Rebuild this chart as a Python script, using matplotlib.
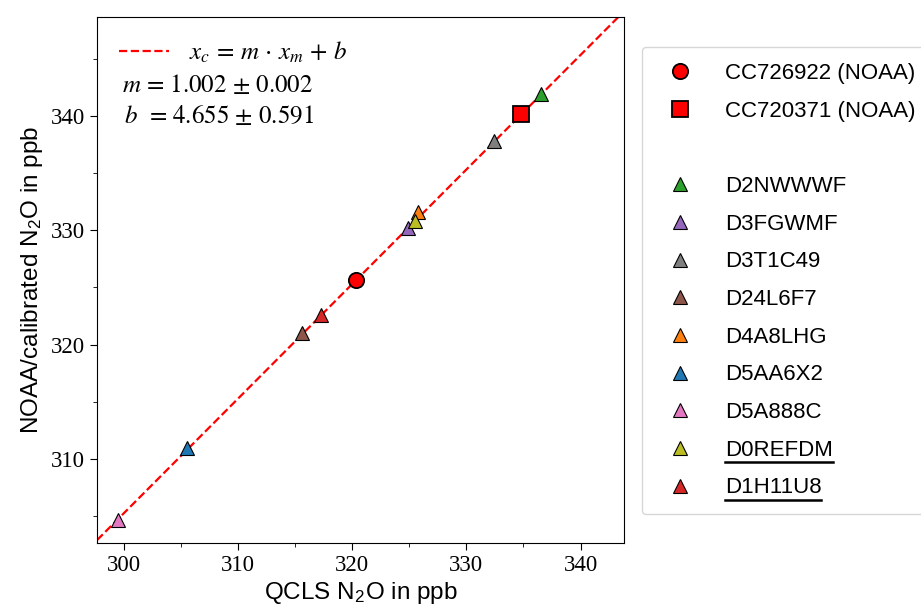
import matplotlib
matplotlib.use("Agg")
import matplotlib.pyplot as plt
import numpy as np
from matplotlib.lines import Line2D
from matplotlib.ticker import MultipleLocator

plt.rcParams["mathtext.fontset"] = "stix"
plt.rcParams["font.family"] = ["Liberation Sans", "DejaVu Sans"]

# fit result
slope = 1.002
slope_err = 0.002
offset = 4.655
offset_err = 0.591

# NOAA reference cylinders
ref_names = ["CC726922 (NOAA)", "CC720371 (NOAA)"]
ref_x = [320.33, 334.8]
ref_y = [325.65, 340.2]
ref_markers = ["o", "s"]

# calibrated cylinders
cyl_names = ["D2NWWWF", "D3FGWMF", "D3T1C49", "D24L6F7", "D4A8LHG",
             "D5AA6X2", "D5A888C", "D0REFDM", "D1H11U8"]
cyl_x = [336.5, 324.9, 332.4, 315.6, 325.8, 305.5, 299.5, 325.5, 317.3]
cyl_y = [341.9, 330.2, 337.8, 321.0, 331.6, 311.0, 304.7, 330.8, 322.6]
cyl_colors = ["tab:green", "tab:purple", "tab:gray", "tab:brown", "tab:orange",
              "tab:blue", "tab:pink", "tab:olive", "tab:red"]
underlined = ["D0REFDM", "D1H11U8"]

xlim = (297.65, 343.8)
ylim = (302.65, 348.65)

fig = plt.figure(figsize=(9.21, 6.10), dpi=100)
ax = fig.add_axes([0.1053, 0.1098, 0.5722, 0.8623])

xs = np.array(xlim)
fit_line, = ax.plot(xs, slope * xs + offset, "r--", lw=1.6, zorder=1,
                    label=r"$x_c \,=\, m \,\cdot\, x_m \,+\, b$")

handles = []
for name, x, y, m in zip(ref_names, ref_x, ref_y, ref_markers):
    h, = ax.plot([x], [y], m, color="red", mec="black", mew=1.3, ms=11,
                 ls="none", zorder=4, label=name)
    handles.append(h)
handles.append(Line2D([], [], ls="none", label=""))
for name, x, y, c in zip(cyl_names, cyl_x, cyl_y, cyl_colors):
    h, = ax.plot([x], [y], "^", color=c, mec="black", mew=0.8, ms=10,
                 ls="none", zorder=3, label=name)
    handles.append(h)

ax.set_xlim(*xlim)
ax.set_ylim(*ylim)
ax.xaxis.set_major_locator(MultipleLocator(10))
ax.xaxis.set_minor_locator(MultipleLocator(5))
ax.yaxis.set_major_locator(MultipleLocator(10))
ax.yaxis.set_minor_locator(MultipleLocator(5))
for lab in ax.get_xticklabels() + ax.get_yticklabels():
    lab.set_fontfamily("Liberation Serif")
    lab.set_fontsize(16.5)
ax.tick_params(which="major", length=5)
ax.tick_params(which="minor", length=3)

ax.set_xlabel(r"QCLS N$_\mathregular{2}$O in ppb", fontsize=17.5, labelpad=3)
ax.set_ylabel(r"NOAA/calibrated N$_\mathregular{2}$O in ppb", fontsize=17.5,
              labelpad=4)

ax.legend(handles=[fit_line], loc="upper left", frameon=False, fontsize=18,
          handlelength=2, handletextpad=0.8)
ax.text(0.047, 0.868, r"$m$ = %.3f $\pm$ %.3f" % (slope, slope_err),
        transform=ax.transAxes, fontsize=18, va="center",
        fontfamily="STIXGeneral")
ax.text(0.052, 0.809, r"$b$  = %.3f $\pm$ %.3f" % (offset, offset_err),
        transform=ax.transAxes, fontsize=18, va="center",
        fontfamily="STIXGeneral")

leg = fig.legend(handles=handles, loc="upper left",
                 bbox_to_anchor=(642 / 921, 1 - 47 / 610), fontsize=16,
                 handlelength=2, handletextpad=1.0, borderpad=0.72,
                 labelspacing=0.75, borderaxespad=0)

fig.canvas.draw()
renderer = fig.canvas.get_renderer()
inv = fig.transFigure.inverted()
for txt in leg.get_texts():
    if txt.get_text() in underlined:
        bb = txt.get_window_extent(renderer)
        (x0, y0), (x1, _) = inv.transform([(bb.x0, bb.y0), (bb.x1, bb.y1)])
        fig.add_artist(Line2D([x0, x1], [y0 - 0.002, y0 - 0.002],
                              color="black", lw=1.8, zorder=10,
                              transform=fig.transFigure))

fig.savefig("out.png", dpi=100)
